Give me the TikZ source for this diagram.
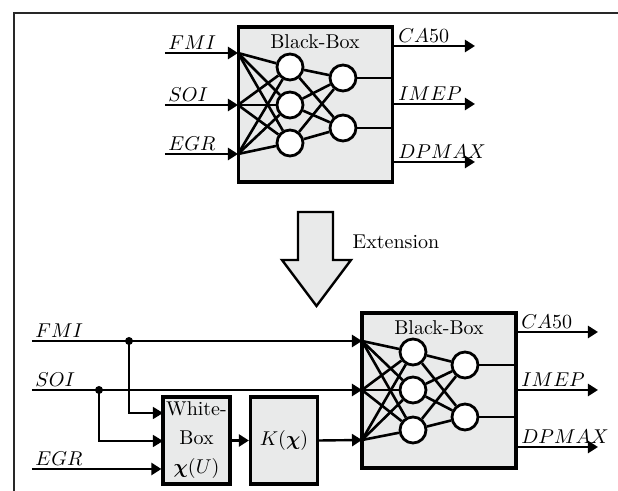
\documentclass[tikz,border=0pt]{standalone}
\usepackage{amsmath,amssymb}
\usetikzlibrary{arrows.meta,positioning,calc}
\definecolor{boxgray}{RGB}{233,234,234}
\definecolor{linegray}{RGB}{40,40,40}

\begin{document}
\begin{tikzpicture}[x=0.5pt, y=-0.5pt, >={Triangle[length=5pt,width=6pt]}, bbox/.style={draw, line width=1.6pt, fill=boxgray, minimum width=77pt, minimum height=77.5pt, inner sep=0pt}, wbox/.style={draw, line width=1.6pt, fill=boxgray, minimum width=33.5pt, minimum height=43.5pt, inner sep=0pt, align=center}, neuron/.style={circle, draw, line width=1.4pt, fill=white, minimum size=13pt, inner sep=0pt}, wire/.style={line width=1.3pt}, arrow/.style={->, line width=1.2pt}, tharrow/.style={->, line width=0.6pt}, sig/.style={inner sep=1.5pt}]
\useasboundingbox (0,0) rectangle (618,491);
\draw[line width=1pt, linegray] (618,13) -- (14,13) -- (14,491);

\node[bbox] (bb1) at (315.5,104.5) {};
\node (t1) at (315,42) {Black-Box};
\node[neuron] (a1) at (290,67) {};
\node[neuron] (a2) at (290,105) {};
\node[neuron] (a3) at (290,143) {};
\node[neuron] (b1) at (343,78) {};
\node[neuron] (b2) at (343,128) {};
\coordinate (x1) at (238,53);
\coordinate (x2) at (238,105);
\coordinate (x3) at (238,154);
\foreach \i in {1,2,3} \foreach \j in {1,2,3} \draw[wire] (x\i) -- (a\j);
\foreach \j in {1,2,3} \foreach \k in {1,2} \draw[wire] (a\j) -- (b\k);
\draw[wire] (b1) -- (b1 -| bb1.east);
\draw[wire] (b2) -- (b2 -| bb1.east);
\node[sig, anchor=south west] (fmi1) at (165,53) {$FMI$};
\node[sig, anchor=south west] (soi1) at (165,105) {$SOI$};
\node[sig, anchor=south west] (egr1) at (165,154) {$EGR$};
\draw[arrow] (fmi1.south west) -- (x1);
\draw[arrow] (soi1.south west) -- (x2);
\draw[arrow] (egr1.south west) -- (x3);
\coordinate (y1) at (475,46);
\coordinate (y2) at (475,104);
\coordinate (y3) at (475,162);
\node[sig, anchor=south west] (ca1) at (395,46) {$CA50$};
\node[sig, anchor=south west] (imep1) at (395,104) {$IMEP$};
\node[sig, anchor=south west] (dp1) at (395,162) {$DPMAX$};
\draw[arrow] (bb1.east |- y1) -- (y1);
\draw[arrow] (bb1.east |- y2) -- (y2);
\draw[arrow] (bb1.east |- y3) -- (y3);

\draw[line width=1.2pt, fill=boxgray] (298,212) -- (333,212) -- (333,260) -- (351,260) -- (316.5,306) -- (282,260) -- (298,260) -- cycle;
\node (ext) at (396,242) {Extension};

\node[bbox] (bb2) at (439,390.5) {};
\node (t2) at (439,328) {Black-Box};
\node[neuron] (c1) at (413,352) {};
\node[neuron] (c2) at (413,390) {};
\node[neuron] (c3) at (413,430) {};
\node[neuron] (d1) at (465,365) {};
\node[neuron] (d2) at (465,417) {};
\coordinate (z1) at (362,341);
\coordinate (z2) at (362,390);
\coordinate (z3) at (362,440);
\foreach \i in {1,2,3} \foreach \j in {1,2,3} \draw[wire] (z\i) -- (c\j);
\foreach \j in {1,2,3} \foreach \k in {1,2} \draw[wire] (c\j) -- (d\k);
\draw[wire] (d1) -- (d1 -| bb2.east);
\draw[wire] (d2) -- (d2 -| bb2.east);
\coordinate (w1) at (598,332);
\coordinate (w2) at (598,390);
\coordinate (w3) at (598,447);
\node[sig, anchor=south west] (ca2) at (518,332) {$CA50$};
\node[sig, anchor=south west] (imep2) at (518,390) {$IMEP$};
\node[sig, anchor=south west] (dp2) at (518,447) {$DPMAX$};
\draw[arrow] (bb2.east |- w1) -- (w1);
\draw[arrow] (bb2.east |- w2) -- (w2);
\draw[arrow] (bb2.east |- w3) -- (w3);

\node[sig, anchor=south west] (fmi2) at (32,341) {$FMI$};
\node[sig, anchor=south west] (soi2) at (32,390) {$SOI$};
\node[sig, anchor=south west] (egr2) at (32,469) {$EGR$};
\node[wbox, font=\fontsize{10}{14.5}\selectfont] (wb) at (196.5,440.5) {White-\\Box\\$\boldsymbol{\chi}(U)$};
\node[wbox] (kb) at (284,440.5) {$K(\boldsymbol{\chi})$};
\draw[arrow] (fmi2.south west) -- (z1);
\draw[arrow] (soi2.south west) -- (z2);
\draw[arrow] (egr2.south west) -- (egr2.south west -| wb.west);
\coordinate (dfmi) at (129,341);
\coordinate (dsoi) at (99,390);
\coordinate (wb1) at (163,413);
\coordinate (wb2) at (163,441);
\fill (dfmi) circle (2pt);
\fill (dsoi) circle (2pt);
\draw[tharrow] (dfmi) |- (wb1);
\draw[tharrow] (dsoi) |- (wb2);
\draw[arrow] (wb.east) -- (kb.west);
\draw[arrow] (kb.east) -- (z3);
\end{tikzpicture}
\end{document}
